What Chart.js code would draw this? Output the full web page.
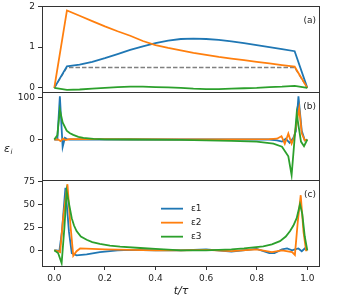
<!DOCTYPE html>
<html>
<head>
<meta charset="utf-8">
<script src="https://cdn.jsdelivr.net/npm/chart.js@4"></script>
<style>
  html, body { margin: 0; padding: 0; background: #fff; }
  canvas { display: block; }
</style>
</head>
<body>
<canvas id="chart" width="340" height="300"></canvas>
<script>
// panel (a)
const tA = [0, 0.05, 0.1, 0.15, 0.2, 0.25, 0.3, 0.35, 0.4, 0.45, 0.5, 0.55, 0.6, 0.65, 0.7, 0.75, 0.8, 0.85, 0.9, 0.95, 1.0];
const a1 = [0, 0.53, 0.57, 0.64, 0.73, 0.83, 0.93, 1.02, 1.1, 1.16, 1.2, 1.21, 1.2, 1.18, 1.14, 1.1, 1.05, 1.0, 0.95, 0.9, 0];
const a2 = [0, 1.9, 1.77, 1.64, 1.51, 1.39, 1.28, 1.15, 1.05, 0.98, 0.92, 0.86, 0.81, 0.76, 0.72, 0.68, 0.64, 0.6, 0.56, 0.52, 0];
const a3 = [0, -0.05, -0.04, -0.02, 0, 0.02, 0.03, 0.03, 0.02, 0.01, 0, -0.02, -0.03, -0.03, -0.02, -0.01, 0, 0.02, 0.03, 0.05, 0];
const tRef = [0, 0.05, 0.95, 1.0];
const aRef = [0, 0.5, 0.5, 0];

// panel (b)
const tB1 = [0, 0.012, 0.022, 0.033, 0.042, 0.05, 0.06, 0.2, 0.5, 0.85, 0.88, 0.9, 0.915, 0.93, 0.945, 0.955, 0.965, 0.978, 0.99, 1.0];
const b1  = [0, 0, 103, -18, 4, 1, 0, 0, 0, 0, -2, -5, 2, -8, 4, 20, 103, 21, -2, 0];
const tB2 = [0, 0.015, 0.025, 0.035, 0.045, 0.06, 0.1, 0.5, 0.85, 0.88, 0.898, 0.911, 0.925, 0.938, 0.948, 0.958, 0.968, 0.978, 0.99, 1.0];
const b2  = [0, 0, -4, 2, -1, 1, 1, 0.5, 1, 2, 8, -10, 14, -10, 5, 40, 75, 15, -2, 0];
const tB3 = [0, 0.012, 0.022, 0.033, 0.049, 0.062, 0.075, 0.095, 0.115, 0.155, 0.2, 0.3, 0.5, 0.7, 0.8, 0.866, 0.9, 0.925, 0.938, 0.958, 0.975, 0.987, 1.0];
const b3  = [0, 10, 71, 41, 21, 15, 11, 6.5, 4, 1.5, 0.5, 0, -1, -3, -5, -10, -17, -40, -85, 62, -5, -16, 0];

// panel (c)
const tC1 = [0, 0.01, 0.02, 0.03, 0.044, 0.058, 0.069, 0.088, 0.128, 0.18, 0.25, 0.3, 0.4, 0.5, 0.6, 0.7, 0.8, 0.85, 0.87, 0.9, 0.92, 0.94, 0.951, 0.965, 0.978, 0.99, 1.0];
const c1  = [0, 0, -1, 20, 68, 20, -3, -5.5, -4.5, -2, 0, 0.5, 0, 0, 1, -1.5, 1.5, -3, -3, 1, 2, 0, 1, 2, -1, 2, 0];
const tC2 = [0, 0.015, 0.023, 0.035, 0.052, 0.063, 0.075, 0.088, 0.102, 0.15, 0.2, 0.3, 0.4, 0.5, 0.6, 0.7, 0.8, 0.86, 0.9, 0.94, 0.951, 0.962, 0.974, 0.985, 0.995, 1.0];
const c2  = [0, -1, -2, 35, 72, 30, -6, -1, 2, 1.5, 1, 0.5, 0, 0, 0.5, -1, 1, -2, 0, -2, -5, 30, 60, 20, 0, 0];
const tC3 = [0, 0.015, 0.029, 0.04, 0.049, 0.06, 0.069, 0.078, 0.088, 0.105, 0.128, 0.15, 0.18, 0.22, 0.26, 0.34, 0.4, 0.5, 0.6, 0.7, 0.75, 0.826, 0.86, 0.892, 0.915, 0.932, 0.945, 0.958, 0.971, 0.98, 0.99, 1.0];
const c3  = [0, -3, -14, 25, 64, 48, 35, 27, 21, 15, 11.5, 9, 7, 5, 4, 2.5, 1.5, 0, 0, 1, 2, 4.3, 6.5, 10, 15, 21, 27, 35, 50, 40, 15, 0];

const seriesNames = ['ε1', 'ε2', 'ε3'];
const panelLabels = ['(a)', '(b)', '(c)'];
const xTicks = [0, 0.2, 0.4, 0.6, 0.8, 1.0];
const xTickLabels = ['0.0', '0.2', '0.4', '0.6', '0.8', '1.0'];
const aTicks = [0, 1, 2];
const bTicks = [0, 100];
const cTicks = [0, 25, 50, 75];

const colors = ['#1f77b4', '#ff7f0e', '#2ca02c'];
const FONT = 'DejaVu Sans';
const INK = '#222';

function pts(xs, ys) {
    return xs.map((x, i) => ({ x: x, y: ys[i] }));
}

function line(xs, ys, color, axis, order) {
    return {
        data: pts(xs, ys),
        yAxisID: axis,
        borderColor: color,
        borderWidth: 1.8,
        pointRadius: 0,
        tension: 0,
        fill: false,
        order: order
    };
}

const datasets = [
    Object.assign(line(tRef, aRef, '#808080', 'yA', 3), { borderWidth: 1.3, borderDash: [4.5, 2] }),
    line(tA, a1, colors[0], 'yA', 2),
    line(tA, a2, colors[1], 'yA', 1),
    line(tA, a3, colors[2], 'yA', 0),
    line(tB1, b1, colors[0], 'yB', 2),
    line(tB2, b2, colors[1], 'yB', 1),
    line(tB3, b3, colors[2], 'yB', 0),
    line(tC1, c1, colors[0], 'yC', 2),
    line(tC2, c2, colors[1], 'yC', 1),
    line(tC3, c3, colors[2], 'yC', 0)
];

function yAxis(min, max, ticks, weight, stackWeight) {
    return {
        type: 'linear',
        position: 'left',
        stack: 'panels',
        stackWeight: stackWeight,
        weight: weight,
        min: min,
        max: max,
        afterBuildTicks: s => { s.ticks = ticks.map(v => ({ value: v })); },
        afterFit: s => { s.width = 42; s.paddingTop = 0; s.paddingBottom = 0; },
        ticks: { font: { family: FONT, size: 9 }, color: INK, padding: 3 },
        grid: { drawOnChartArea: false, drawTicks: true, tickLength: 4, color: '#333' },
        border: { display: false }
    };
}

// cornici, etichette dei pannelli, legenda e etichetta y
const decorPlugin = {
    id: 'decor',
    afterDraw(chart) {
        const ctx = chart.ctx;
        const area = chart.chartArea;
        ctx.save();
        ctx.strokeStyle = '#333';
        ctx.lineWidth = 1;
        ['yA', 'yB', 'yC'].forEach((id, k) => {
            const s = chart.scales[id];
            ctx.strokeRect(Math.round(area.left) + 0.5, Math.round(s.top) + 0.5,
                Math.round(area.right - area.left) - 1, Math.round(s.bottom - s.top));
            ctx.fillStyle = INK;
            ctx.font = '9px "' + FONT + '"';
            ctx.textAlign = 'right';
            ctx.textBaseline = 'middle';
            ctx.fillText(panelLabels[k], area.right - 4, s.top + 14.5);
        });

        // legenda nel pannello (c)
        const sc = chart.scales.yC;
        seriesNames.forEach((name, i) => {
            const y = sc.top + 28.5 + i * 14;
            ctx.strokeStyle = colors[i];
            ctx.lineWidth = 1.8;
            ctx.beginPath();
            ctx.moveTo(area.left + 119, y);
            ctx.lineTo(area.left + 141, y);
            ctx.stroke();
            ctx.fillStyle = INK;
            ctx.textAlign = 'left';
            ctx.fillText(name, area.left + 149, y);
        });

        // etichetta asse y: ε_i
        const sb = chart.scales.yB;
        const yc = (sb.top + sb.bottom) / 2 + 13;
        ctx.fillStyle = INK;
        ctx.textAlign = 'left';
        ctx.font = 'italic 11px "' + FONT + '"';
        ctx.fillText('ε', 4, yc);
        ctx.font = 'italic 7px "' + FONT + '"';
        ctx.fillText('i', 10.5, yc + 3);
        ctx.restore();
    }
};

new Chart(document.getElementById('chart').getContext('2d'), {
    type: 'line',
    data: { datasets: datasets },
    options: {
        responsive: false,
        animation: false,
        devicePixelRatio: 1,
        layout: { padding: { top: 6, right: 20, left: 0, bottom: 0 } },
        plugins: { legend: { display: false }, tooltip: { enabled: false } },
        scales: {
            x: {
                type: 'linear',
                position: 'bottom',
                min: -0.0486,
                max: 1.0502,
                afterBuildTicks: s => { s.ticks = xTicks.map(v => ({ value: v })); },
                afterFit: s => { s.height = 34; },
                ticks: {
                    font: { family: FONT, size: 9 },
                    color: INK,
                    padding: 3,
                    maxRotation: 0,
                    autoSkip: false,
                    callback: (v, i) => xTickLabels[i]
                },
                grid: { drawOnChartArea: false, drawTicks: true, tickLength: 4, color: '#333' },
                border: { display: false },
                title: {
                    display: true,
                    text: 't/τ',
                    color: INK,
                    font: { family: FONT, size: 11, style: 'italic' },
                    padding: { top: 0, bottom: 2 }
                }
            },
            yA: yAxis(-0.11, 2.01, aTicks, 3, 86.5),
            yB: yAxis(-97, 112.6, bTicks, 2, 88),
            yC: yAxis(-17.1, 76.4, cTicks, 1, 86)
        }
    },
    plugins: [decorPlugin]
});
</script>
</body>
</html>
